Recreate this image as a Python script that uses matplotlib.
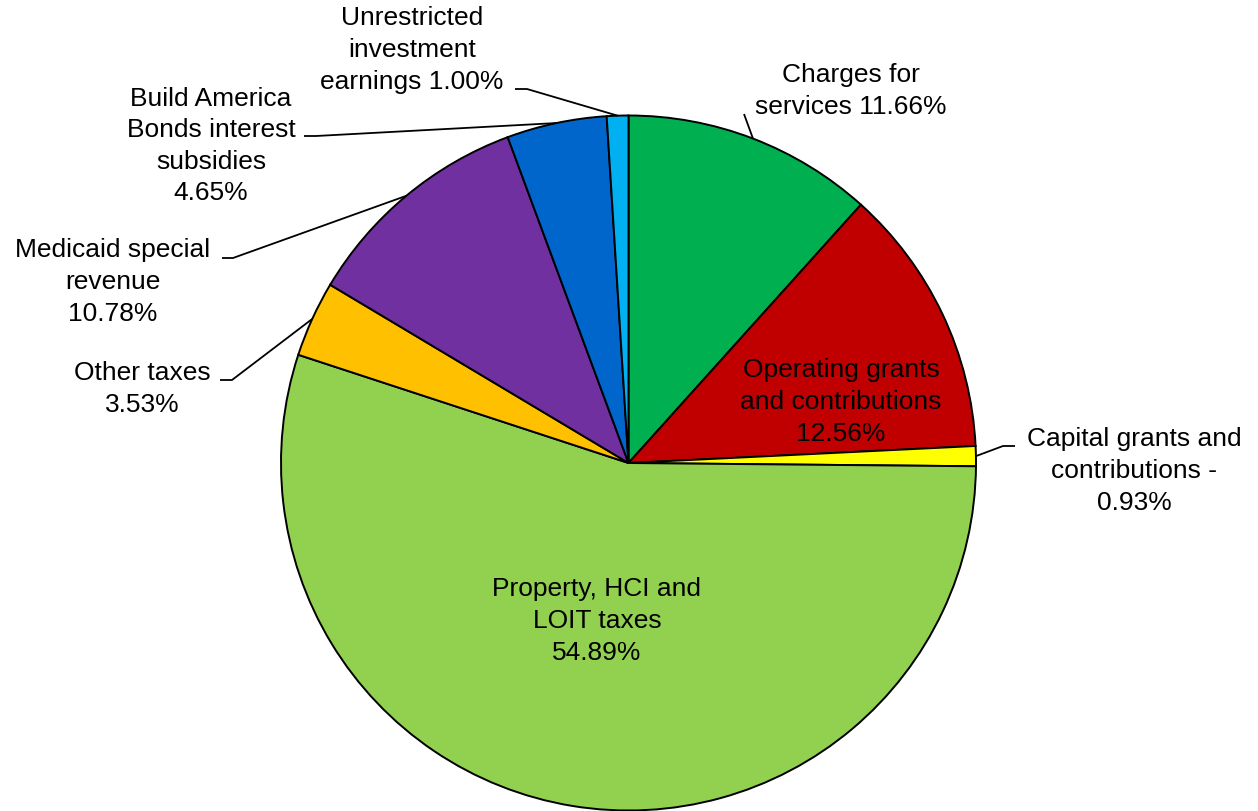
import numpy as np
import matplotlib.pyplot as plt

plt.rcParams['font.family'] = ['Liberation Sans', 'DejaVu Sans']

# revenue shares (%), clockwise from 12 o'clock
labels = ["Charges for services", "Operating grants and contributions",
          "Capital grants and contributions", "Property, HCI and LOIT taxes",
          "Other taxes", "Medicaid special revenue",
          "Build America Bonds interest subsidies",
          "Unrestricted investment earnings"]
shares = [11.66, 12.56, 0.93, 54.89, 3.53, 10.78, 4.65, 1.00]
colors = ['#00B050', '#C00000', '#FFFF00', '#92D050',
          '#FFC000', '#7030A0', '#0066CC', '#00B0F0']

# text shown for each slice
label_text = [
    "Charges for\nservices %.2f%%" % shares[0],
    "Operating grants\nand contributions\n%.2f%%" % shares[1],
    "Capital grants and\ncontributions -\n%.2f%%" % shares[2],
    "Property, HCI and\nLOIT taxes\n%.2f%%" % shares[3],
    "Other taxes\n%.2f%%" % shares[4],
    "Medicaid special\nrevenue\n%.2f%%" % shares[5],
    "Build America\nBonds interest\nsubsidies\n%.2f%%" % shares[6],
    "Unrestricted\ninvestment\nearnings %.2f%%" % shares[7],
]

W, H = 1258, 811
fig = plt.figure(figsize=(W / 100, H / 100), dpi=100)
ax = fig.add_axes([0, 0, 1, 1])

def py(y):
    # pixel row -> data y (y axis points up)
    return H - y

cx, cy, r = 628.5, py(463), 347.5
wedges, _ = ax.pie(shares, colors=colors, startangle=90, counterclock=False,
                   center=(cx, cy), radius=r,
                   wedgeprops=dict(edgecolor='black', linewidth=1.4))

ax.set_xlim(0, W)
ax.set_ylim(0, H)
ax.set_aspect('equal')
ax.axis('off')

# label placement: (x, y of block centre, leader start, horizontal tick end)
layout = [
    (851, 91, (744, 114), None),
    (841, 402, None, None),
    (1134, 471, (1015, 446), (1003, 446)),
    (597, 621, None, None),
    (142, 389, (220, 380), (232, 380)),
    (113, 282, (222, 258), (233, 258)),
    (211, 146, (304, 136), (316, 136)),
    (412, 50, (515, 89), (527, 89)),
]

fs = 19
for w, txt, (tx, ty, p0, p1) in zip(wedges, label_text, layout):
    ax.text(tx, py(ty), txt, ha='center', va='center', fontsize=fs,
            linespacing=1.4, color='black')
    if p0 is None:
        continue
    mid = np.deg2rad((w.theta1 + w.theta2) / 2)
    ex, ey = cx + r * np.cos(mid), cy + r * np.sin(mid)
    if p1 is None:
        xs, ys = [p0[0], ex], [py(p0[1]), ey]
    else:
        xs, ys = [p0[0], p1[0], ex], [py(p0[1]), py(p1[1]), ey]
    ax.plot(xs, ys, color='black', linewidth=1.3, solid_capstyle='butt')

fig.savefig("out.png", dpi=100)
